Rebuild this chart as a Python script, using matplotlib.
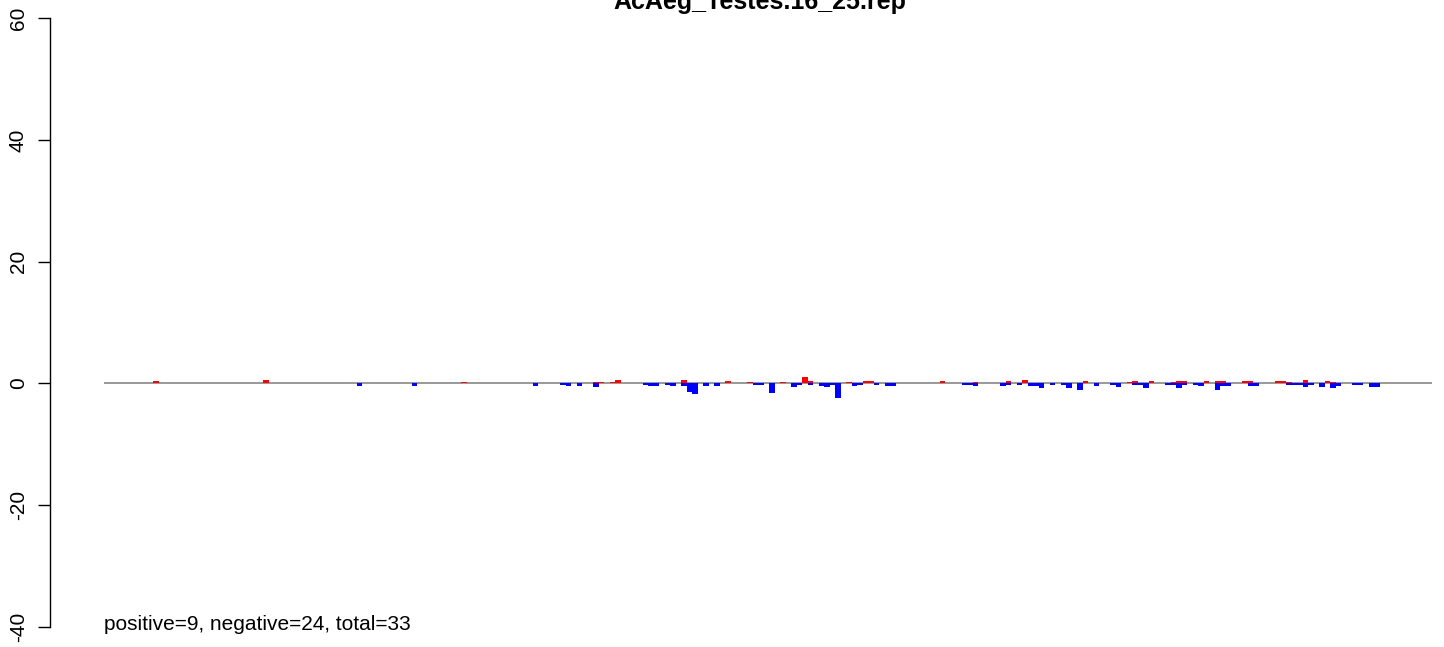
import matplotlib
matplotlib.use("Agg")
import matplotlib.pyplot as plt

plt.rcParams["font.family"] = ["Liberation Sans", "DejaVu Sans"]

title = "AcAeg_Testes.16_25.rep"
summary = "positive=9, negative=24, total=33"

# bin index along the sequence, and read-count heights
pos_bins = [9, 29, 65, 89, 90, 92, 93, 105, 113, 117, 123, 127, 128, 135, 138,
            139, 152, 158, 164, 167, 178, 186, 187, 190, 194, 195, 196, 200,
            202, 203, 207, 208, 213, 214, 215, 218, 222, 223]
pos_vals = [0.4, 0.55, 0.25, 0.25, 0.25, 0.25, 0.5, 0.5, 0.45, 0.25, 0.25, 1.0,
            0.45, 0.25, 0.45, 0.45, 0.45, 0.25, 0.45, 0.6, 0.45, 0.25, 0.45,
            0.45, 0.25, 0.45, 0.45, 0.45, 0.45, 0.45, 0.45, 0.45, 0.45, 0.45,
            0.25, 0.6, 0.45, 0.25]

neg_bins = [46, 56, 78, 83, 84, 86, 89, 98, 99, 100, 102, 103, 105, 106, 107,
            109, 111, 118, 119, 121, 125, 126, 128, 130, 131, 132, 133, 136,
            137, 140, 142, 143, 156, 157, 158, 163, 164, 166, 168, 169, 170,
            172, 174, 175, 177, 180, 183, 184, 187, 188, 189, 193, 194, 195,
            196, 198, 199, 202, 203, 204, 208, 209, 215, 216, 217, 218, 219,
            221, 223, 224, 227, 228, 230, 231]
neg_vals = [-0.35, -0.35, -0.4, -0.3, -0.5, -0.35, -0.6, -0.3, -0.5, -0.35,
            -0.3, -0.35, -0.5, -1.4, -1.7, -0.35, -0.35, -0.3, -0.3, -1.55,
            -0.55, -0.3, -0.3, -0.35, -0.6, -0.3, -2.4, -0.35, -0.3, -0.3,
            -0.35, -0.35, -0.3, -0.3, -0.5, -0.35, -0.3, -0.3, -0.45, -0.45,
            -0.75, -0.3, -0.3, -0.75, -1.05, -0.5, -0.3, -0.6, -0.3, -0.3,
            -0.75, -0.3, -0.3, -0.75, -0.3, -0.3, -0.5, -1.05, -0.5, -0.5,
            -0.5, -0.35, -0.3, -0.3, -0.3, -0.6, -0.3, -0.6, -0.75, -0.35,
            -0.3, -0.3, -0.6, -0.6]

n_bins = 241.5
yticks = [-40, -20, 0, 20, 40, 60]

fig = plt.figure(figsize=(14.44, 6.47), dpi=100)
ax = fig.add_axes([50 / 1444, 0, 1394 / 1444, 1])

ax.hlines(0, 0, n_bins, color="#999999", linewidth=1.4, zorder=1)
ax.bar(pos_bins, pos_vals, width=1, align="edge", color="#ff0000", linewidth=0, zorder=2)
ax.bar(neg_bins, neg_vals, width=1, align="edge", color="#0000ff", linewidth=0, zorder=2)

ax.set_xlim(-9.73, 243.7)
ax.set_ylim(-43.28, 62.96)

for s in ["top", "right", "bottom"]:
    ax.spines[s].set_visible(False)
ax.spines["left"].set_bounds(-40, 60)
ax.spines["left"].set_linewidth(1.0)
ax.set_xticks([])
ax.set_yticks(yticks)
ax.set_yticklabels([str(t) for t in yticks], rotation=90, va="center", fontsize=15)
ax.tick_params(axis="y", length=9, width=1.0, pad=7)

ax.text(0, -40.5, summary, fontsize=15, ha="left", va="baseline")
fig.text(760 / 1444, 1 - 9 / 647, title, fontsize=18, fontweight="bold",
         ha="center", va="baseline")

fig.savefig("out.png", dpi=100)
